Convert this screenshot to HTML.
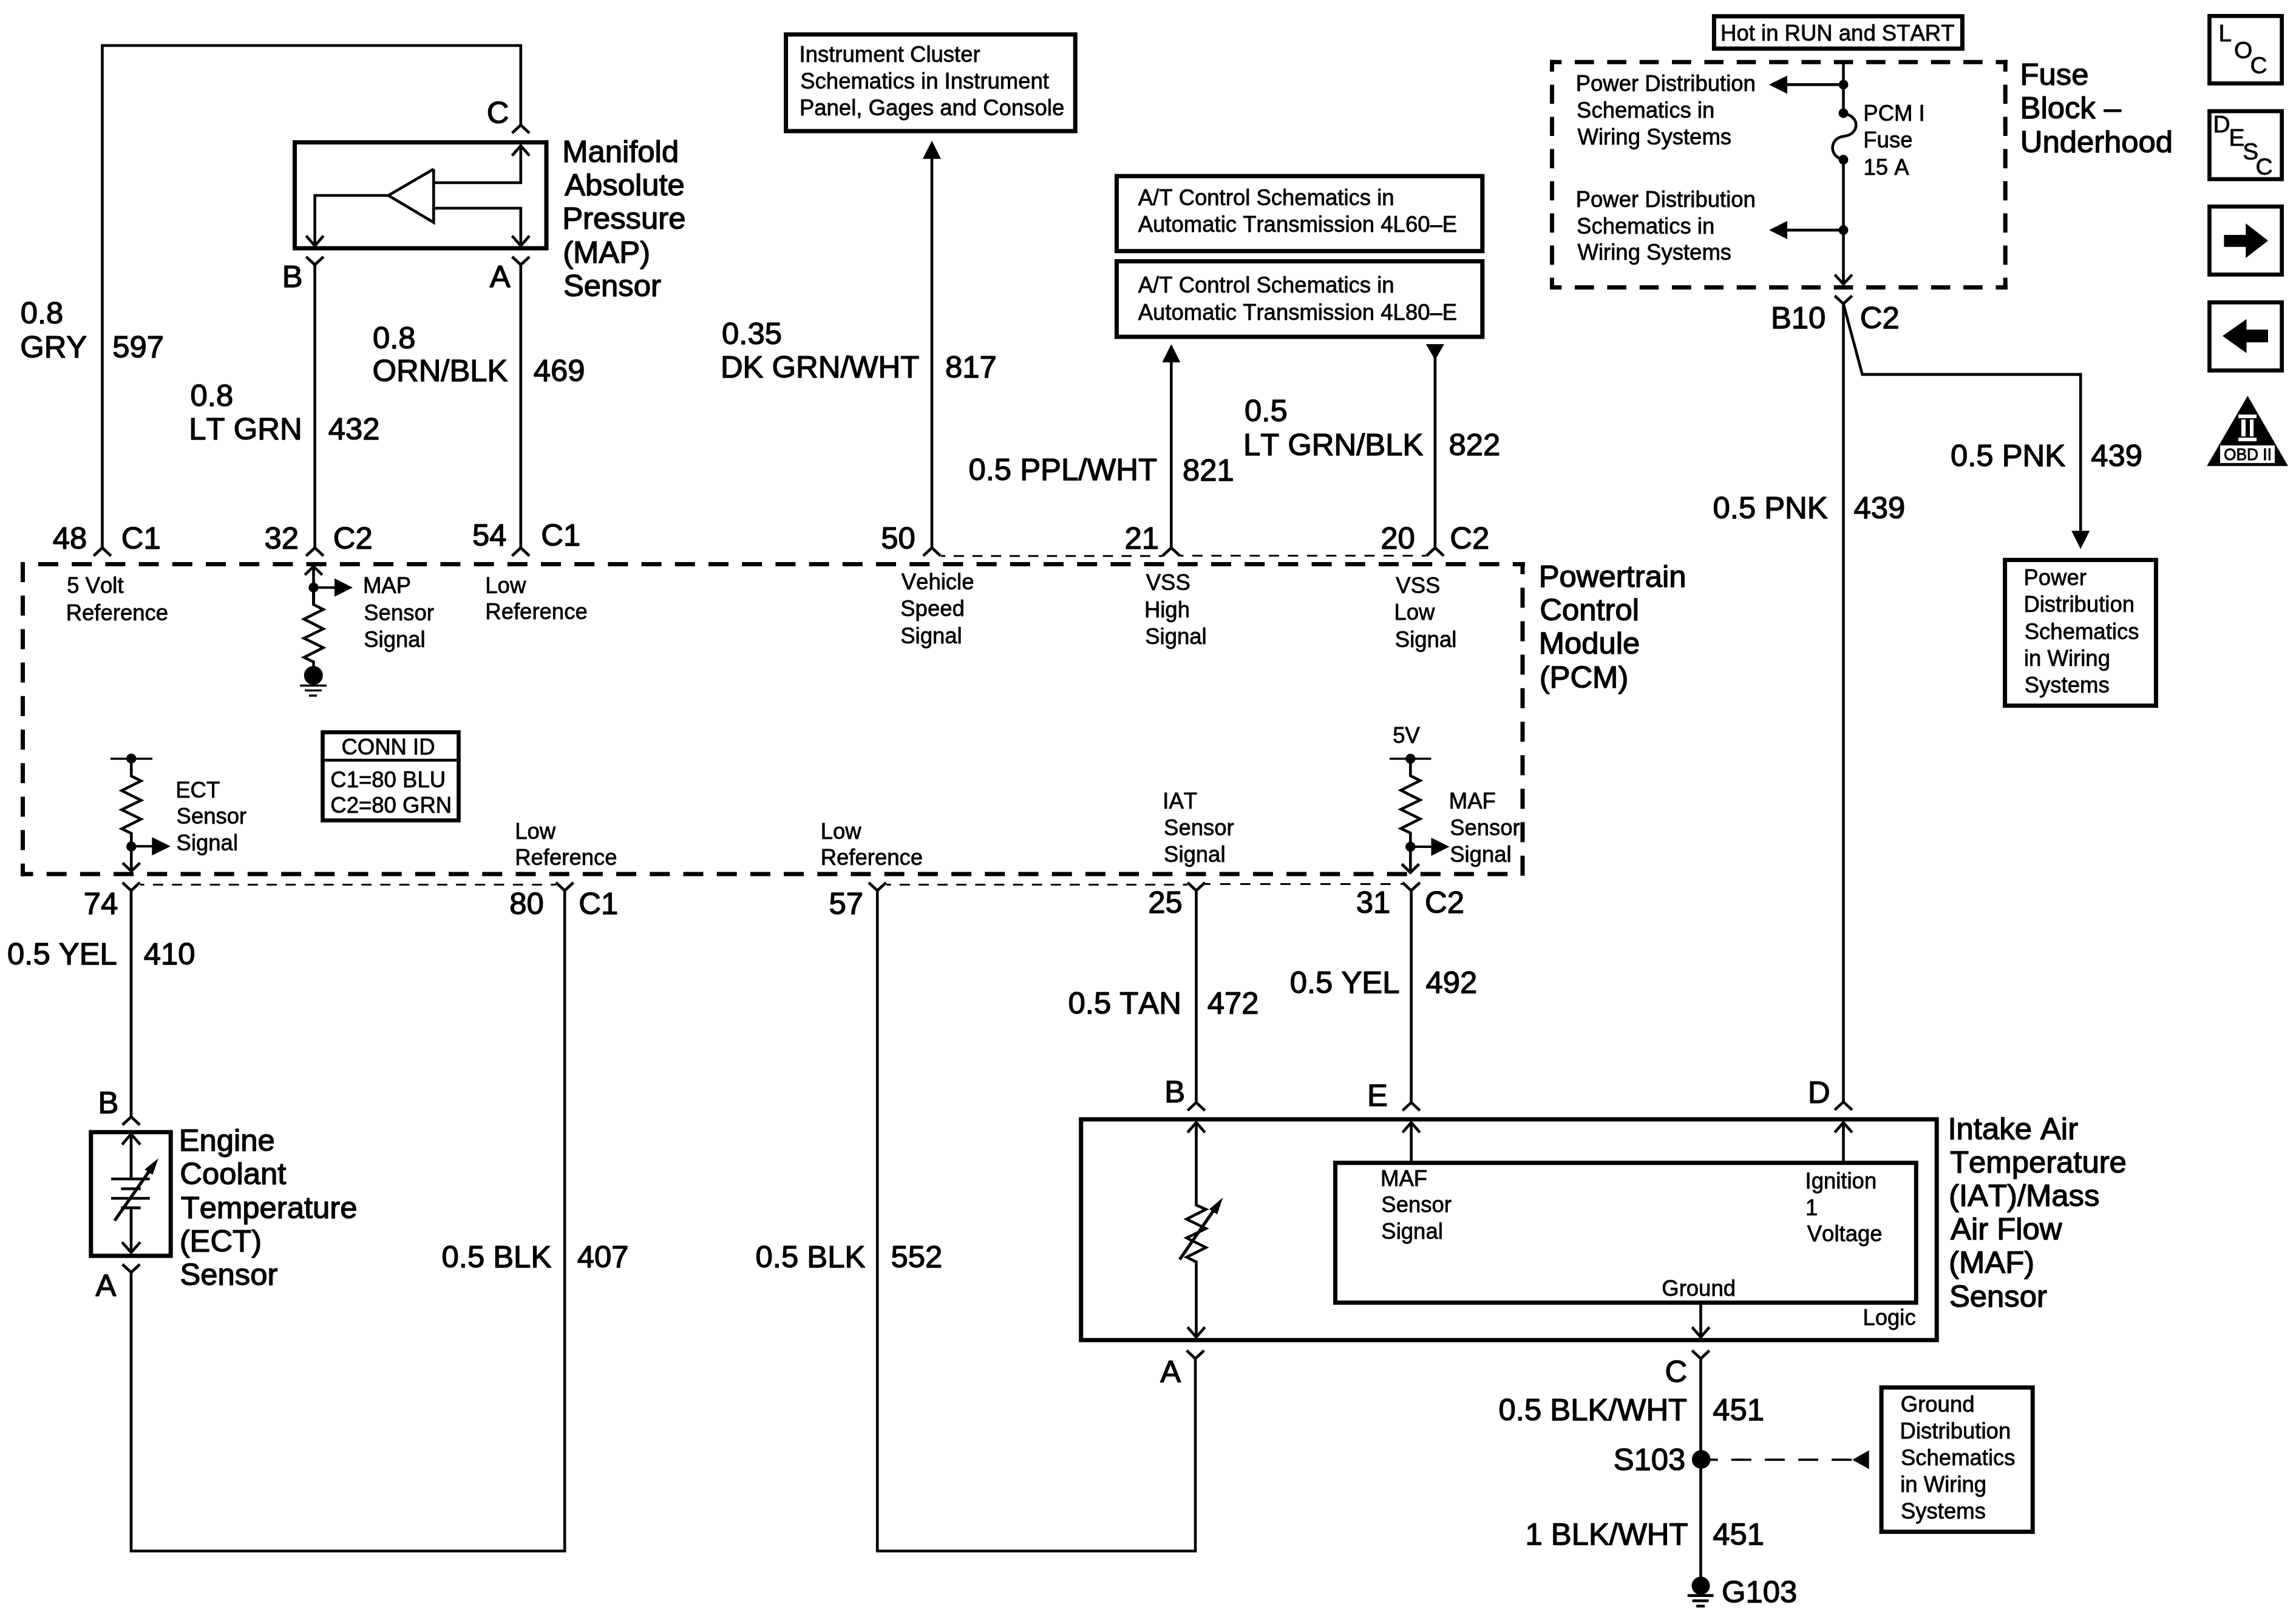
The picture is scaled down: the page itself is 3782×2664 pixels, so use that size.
<!DOCTYPE html>
<html><head><meta charset="utf-8">
<style>
html,body{margin:0;padding:0;background:#fff;}
body{width:3782px;height:2664px;overflow:hidden;}
svg{display:block;will-change:transform;}
text{-webkit-font-smoothing:antialiased;}
text{font-family:"Liberation Sans",sans-serif;font-kerning:none;fill:#000;stroke:#000;stroke-linejoin:round;}
</style></head>
<body>
<svg width="3782" height="2664" viewBox="0 0 3782 2664">
<rect x="0" y="0" width="3782" height="2664" fill="#fff"/>
<g stroke="#000" fill="none" stroke-linecap="butt" stroke-linejoin="miter">
<line x1="34" y1="929.5" x2="2512" y2="929.5" stroke-width="7" stroke-dasharray="33 22.2" stroke-dashoffset="26.2"/>
<line x1="2508" y1="926" x2="2508" y2="1443.8" stroke-width="7" stroke-dasharray="33 22.2" stroke-dashoffset="13"/>
<line x1="34" y1="1439.9" x2="2504" y2="1439.9" stroke-width="7" stroke-dasharray="33 22.2" stroke-dashoffset="12.5"/>
<line x1="37.5" y1="926" x2="37.5" y2="1443.4" stroke-width="7" stroke-dasharray="33 22.2" stroke-dashoffset="0"/>
<line x1="1550" y1="916" x2="1915" y2="916" stroke-width="3" stroke-dasharray="16.8 13.9" stroke-dashoffset="9.7"/>
<line x1="1944" y1="915.5" x2="2349" y2="915.5" stroke-width="3" stroke-dasharray="16.8 14.7" stroke-dashoffset="11.5"/>
<line x1="231" y1="1457.4" x2="916" y2="1457.4" stroke-width="3" stroke-dasharray="16.8 14.4" stroke-dashoffset="10.2"/>
<line x1="1460" y1="1457.4" x2="1956" y2="1457.4" stroke-width="3" stroke-dasharray="16.8 14.3" stroke-dashoffset="9.1"/>
<line x1="1985" y1="1456.6" x2="2310" y2="1456.6" stroke-width="3" stroke-dasharray="16.8 16.2" stroke-dashoffset="8"/>
<polyline points="168.5,902.5 168.5,75 857.8,75 857.8,206" stroke-width="4.6"/>
<polyline points="843.5,219.3 857.8,206 872.1,219.3" stroke-width="4.6"/>
<text x="801.82" y="202.8" font-size="50.8" stroke-width="1.4">C</text>
<rect x="485.5" y="234.5" width="414.5" height="174.5" stroke-width="7"/>
<polyline points="843.5,256.5 857.8,240 872.1,256.5" stroke-width="4.6"/>
<polyline points="714.6,301 857.8,301 857.8,240" stroke-width="4.6"/>
<polyline points="714.3,278.4 714.3,366.5 639.7,322 714.3,278.4" stroke-width="4.6" stroke-linejoin="miter"/>
<polyline points="714.6,343 857.8,343 857.8,405" stroke-width="4.6"/>
<polyline points="843.5,388.5 857.8,405 872.1,388.5" stroke-width="4.6"/>
<polyline points="639.7,322 518.6,322 518.6,405" stroke-width="4.6"/>
<polyline points="504.3,388.5 518.6,405 532.9,388.5" stroke-width="4.6"/>
<polyline points="504.3,423 518.6,436.3 532.9,423" stroke-width="4.6"/>
<polyline points="843.5,423 857.8,436.3 872.1,423" stroke-width="4.6"/>
<line x1="518.6" y1="436.5" x2="518.6" y2="902.5" stroke-width="4.6"/>
<line x1="857.8" y1="436.5" x2="857.8" y2="902.5" stroke-width="4.6"/>
<text x="464.73" y="472.8" font-size="50.8" stroke-width="1.4">B</text>
<text x="806.8" y="472.8" font-size="50.8" stroke-width="1.4">A</text>
<text x="926.13" y="266.7" font-size="50.8" stroke-width="1.4">Manifold</text>
<text x="930.2" y="322.07" font-size="50.8" stroke-width="1.4">Absolute</text>
<text x="926.13" y="377.44" font-size="50.8" stroke-width="1.4">Pressure</text>
<text x="927.15" y="432.81" font-size="50.8" stroke-width="1.4">(MAP)</text>
<text x="927.99" y="488.18" font-size="50.8" stroke-width="1.4">Sensor</text>
<text x="33.72" y="532.9" font-size="50.8" stroke-width="1.4">0.8</text>
<text x="33.15" y="588.7" font-size="50.8" stroke-width="1.4">GRY</text>
<text x="185.27" y="588.7" font-size="50.8" stroke-width="1.4">597</text>
<text x="313.52" y="668.5" font-size="50.8" stroke-width="1.4">0.8</text>
<text x="311.33" y="723.5" font-size="50.8" stroke-width="1.4">LT GRN</text>
<text x="540.83" y="723.5" font-size="50.8" stroke-width="1.4">432</text>
<text x="613.92" y="573.9" font-size="50.8" stroke-width="1.4">0.8</text>
<text x="613.49" y="627.9" font-size="50.8" stroke-width="1.4">ORN/BLK</text>
<text x="878.73" y="627.9" font-size="50.8" stroke-width="1.4">469</text>
<polyline points="154.2,915.8 168.5,902.5 182.8,915.8" stroke-width="4.6"/>
<polyline points="504.3,915.8 518.6,902.5 532.9,915.8" stroke-width="4.6"/>
<polyline points="843.5,915.8 857.8,902.5 872.1,915.8" stroke-width="4.6"/>
<polyline points="1520.7,915.8 1535,902.5 1549.3,915.8" stroke-width="4.6"/>
<polyline points="1915,915.8 1929.3,902.5 1943.6,915.8" stroke-width="4.6"/>
<polyline points="2349.6,915.8 2363.9,902.5 2378.2,915.8" stroke-width="4.6"/>
<text x="86.83" y="903.8" font-size="50.8" stroke-width="1.4">48</text>
<text x="199.72" y="903.8" font-size="50.8" stroke-width="1.4">C1</text>
<text x="435.57" y="903.5" font-size="50.8" stroke-width="1.4">32</text>
<text x="548.82" y="903.5" font-size="50.8" stroke-width="1.4">C2</text>
<text x="777.97" y="898.9" font-size="50.8" stroke-width="1.4">54</text>
<text x="891.22" y="898.9" font-size="50.8" stroke-width="1.4">C1</text>
<text x="1451.37" y="904" font-size="50.8" stroke-width="1.4">50</text>
<text x="1852.55" y="904" font-size="50.8" stroke-width="1.4">21</text>
<text x="2274.35" y="904" font-size="50.8" stroke-width="1.4">20</text>
<text x="2388.32" y="904" font-size="50.8" stroke-width="1.4">C2</text>
<rect x="1294.6" y="56.8" width="476.6" height="159.2" stroke-width="7"/>
<text x="1316.53" y="101.7" font-size="36.5" stroke-width="0.8">Instrument Cluster</text>
<text x="1318.24" y="145.8" font-size="36.5" stroke-width="0.8">Schematics in Instrument</text>
<text x="1316.91" y="189.9" font-size="36.5" stroke-width="0.8">Panel, Gages and Console</text>
<polygon points="1535,231.7 1520,261.7 1550,261.7" fill="#000" stroke="none"/>
<line x1="1535" y1="255" x2="1535" y2="902.5" stroke-width="4.6"/>
<text x="1189.12" y="566.8" font-size="50.8" stroke-width="1.4">0.35</text>
<text x="1186.93" y="621.7" font-size="50.8" stroke-width="1.4">DK GRN/WHT</text>
<text x="1556.99" y="621.7" font-size="50.8" stroke-width="1.4">817</text>
<rect x="1839.4" y="290.1" width="602.4" height="123.6" stroke-width="7"/>
<text x="1874.73" y="337.8" font-size="36.5" stroke-width="0.8">A/T Control Schematics in</text>
<text x="1874.73" y="381.7" font-size="36.5" stroke-width="0.8">Automatic Transmission 4L60–E</text>
<rect x="1839.4" y="430.5" width="602.4" height="124.4" stroke-width="7"/>
<text x="1874.73" y="482.4" font-size="36.5" stroke-width="0.8">A/T Control Schematics in</text>
<text x="1874.73" y="527" font-size="36.5" stroke-width="0.8">Automatic Transmission 4L80–E</text>
<polygon points="1929.3,567 1914.3,597 1944.3,597" fill="#000" stroke="none"/>
<line x1="1929.3" y1="590" x2="1929.3" y2="902.5" stroke-width="4.6"/>
<polygon points="2363.9,593 2348.9,567 2378.9,567" fill="#000" stroke="none"/>
<line x1="2363.9" y1="570" x2="2363.9" y2="902.5" stroke-width="4.6"/>
<text x="1595.42" y="791.3" font-size="50.8" stroke-width="1.4">0.5 PPL/WHT</text>
<text x="1947.99" y="791.6" font-size="50.8" stroke-width="1.4">821</text>
<text x="2050.12" y="693.6" font-size="50.8" stroke-width="1.4">0.5</text>
<text x="2047.93" y="750.3" font-size="50.8" stroke-width="1.4">LT GRN/BLK</text>
<text x="2386.59" y="750.3" font-size="50.8" stroke-width="1.4">822</text>
<rect x="2823.4" y="26.8" width="409" height="53.3" stroke-width="7"/>
<text x="2834.11" y="67.2" font-size="36.5" stroke-width="0.8">Hot in RUN and START</text>
<line x1="2553" y1="102.3" x2="3306.7" y2="102.3" stroke-width="7" stroke-dasharray="31.6 21.74" stroke-dashoffset="12.3"/>
<line x1="2553" y1="473.4" x2="3306.7" y2="473.4" stroke-width="7" stroke-dasharray="31.6 21.74" stroke-dashoffset="12.3"/>
<line x1="2556.5" y1="98.8" x2="2556.5" y2="476.9" stroke-width="7" stroke-dasharray="31.6 21.41" stroke-dashoffset="12.3"/>
<line x1="3303.2" y1="98.8" x2="3303.2" y2="476.9" stroke-width="7" stroke-dasharray="31.6 21.41" stroke-dashoffset="12.3"/>
<line x1="3036.5" y1="102.3" x2="3036.5" y2="186.4" stroke-width="4.6"/>
<circle cx="3036.5" cy="139.4" r="8" fill="#000" stroke="none"/>
<line x1="2940" y1="139.4" x2="3036.5" y2="139.4" stroke-width="4.6"/>
<polygon points="2914,139.4 2944,124.4 2944,154.4" fill="#000" stroke="none"/>
<circle cx="3036.5" cy="186.4" r="8" fill="#000" stroke="none"/>
<path d="M 3036.5 186.4 C 3066 192, 3062 222, 3037.5 224.5 C 3013 227, 3012 258, 3036.5 263.1" stroke-width="4.6"/>
<circle cx="3036.5" cy="263.1" r="8" fill="#000" stroke="none"/>
<line x1="3036.5" y1="263.1" x2="3036.5" y2="468" stroke-width="4.6"/>
<circle cx="3036.5" cy="379.1" r="8" fill="#000" stroke="none"/>
<line x1="2940" y1="379.1" x2="3036.5" y2="379.1" stroke-width="4.6"/>
<polygon points="2914,379.1 2944,364.1 2944,394.1" fill="#000" stroke="none"/>
<polyline points="3022.2,452.5 3036.5,468 3050.8,452.5" stroke-width="4.6"/>
<text x="2595.71" y="149.8" font-size="36.5" stroke-width="0.8">Power Distribution</text>
<text x="2597.04" y="193.7" font-size="36.5" stroke-width="0.8">Schematics in</text>
<text x="2598.54" y="237.6" font-size="36.5" stroke-width="0.8">Wiring Systems</text>
<text x="2595.71" y="340.6" font-size="36.5" stroke-width="0.8">Power Distribution</text>
<text x="2597.04" y="384.5" font-size="36.5" stroke-width="0.8">Schematics in</text>
<text x="2598.54" y="428.4" font-size="36.5" stroke-width="0.8">Wiring Systems</text>
<text x="3069.31" y="199.3" font-size="36.5" stroke-width="0.8">PCM I</text>
<text x="3069.31" y="243.4" font-size="36.5" stroke-width="0.8">Fuse</text>
<text x="3069.52" y="287.5" font-size="36.5" stroke-width="0.8">15 A</text>
<text x="3327.53" y="139.7" font-size="50.8" stroke-width="1.4">Fuse</text>
<text x="3327.53" y="195.2" font-size="50.8" stroke-width="1.4">Block –</text>
<text x="3327.78" y="250.7" font-size="50.8" stroke-width="1.4">Underhood</text>
<polyline points="3022.2,487.2 3036.5,500.5 3050.8,487.2" stroke-width="4.6"/>
<text x="2916.93" y="541.3" font-size="50.8" stroke-width="1.4">B10</text>
<text x="3063.82" y="541.3" font-size="50.8" stroke-width="1.4">C2</text>
<line x1="3036.5" y1="500.7" x2="3036.5" y2="1815.3" stroke-width="4.6"/>
<polyline points="3036.5,500.7 3067.6,616.9 3427.2,616.9 3427.2,880" stroke-width="4.6"/>
<polygon points="3427.2,904.5 3412.2,874.5 3442.2,874.5" fill="#000" stroke="none"/>
<text x="3212.92" y="767.7" font-size="50.8" stroke-width="1.4">0.5 PNK</text>
<text x="3444.33" y="767.7" font-size="50.8" stroke-width="1.4">439</text>
<text x="2821.52" y="853.8" font-size="50.8" stroke-width="1.4">0.5 PNK</text>
<text x="3053.43" y="853.8" font-size="50.8" stroke-width="1.4">439</text>
<rect x="3302.6" y="922.5" width="248.8" height="240.1" stroke-width="7"/>
<text x="3333.41" y="964.2" font-size="36.5" stroke-width="0.8">Power</text>
<text x="3333.41" y="1008.4" font-size="36.5" stroke-width="0.8">Distribution</text>
<text x="3334.74" y="1052.6" font-size="36.5" stroke-width="0.8">Schematics</text>
<text x="3333.96" y="1096.8" font-size="36.5" stroke-width="0.8">in Wiring</text>
<text x="3334.74" y="1141" font-size="36.5" stroke-width="0.8">Systems</text>
<text x="110.24" y="977.4" font-size="36.5" stroke-width="0.8">5 Volt</text>
<text x="108.71" y="1022" font-size="36.5" stroke-width="0.8">Reference</text>
<polyline points="502.2,947.2 516.5,933.2 530.8,947.2" stroke-width="4.6"/>
<line x1="516.5" y1="933.2" x2="516.5" y2="996" stroke-width="4.6"/>
<circle cx="516.5" cy="968" r="8.2" fill="#000" stroke="none"/>
<line x1="516.5" y1="968" x2="555" y2="968" stroke-width="3.9"/>
<polygon points="581,968 551,953 551,983" fill="#000" stroke="none"/>
<polyline points="516.5,968 516.5,996 532.5,1004 500.7,1020 532.5,1036 500.7,1051.5 532.5,1067 500.7,1083 516.5,1090.5 516.5,1100" stroke-width="4.6"/>
<circle cx="516.3" cy="1112.8" r="15.5" fill="#000" stroke="none"/>
<line x1="494.1" y1="1129.5" x2="537.9" y2="1129.5" stroke-width="3.4"/>
<line x1="502" y1="1137.5" x2="530" y2="1137.5" stroke-width="3.4"/>
<line x1="509" y1="1146" x2="522.1" y2="1146" stroke-width="3.6"/>
<text x="597.91" y="977.4" font-size="36.5" stroke-width="0.8">MAP</text>
<text x="599.24" y="1021.5" font-size="36.5" stroke-width="0.8">Sensor</text>
<text x="599.24" y="1065.6" font-size="36.5" stroke-width="0.8">Signal</text>
<text x="799.31" y="976.6" font-size="36.5" stroke-width="0.8">Low</text>
<text x="799.31" y="1020" font-size="36.5" stroke-width="0.8">Reference</text>
<text x="1484.74" y="971.2" font-size="36.5" stroke-width="0.8">Vehicle</text>
<text x="1483.24" y="1015.4" font-size="36.5" stroke-width="0.8">Speed</text>
<text x="1483.24" y="1059.6" font-size="36.5" stroke-width="0.8">Signal</text>
<text x="1887.74" y="972.4" font-size="36.5" stroke-width="0.8">VSS</text>
<text x="1884.91" y="1016.6" font-size="36.5" stroke-width="0.8">High</text>
<text x="1886.24" y="1060.8" font-size="36.5" stroke-width="0.8">Signal</text>
<text x="2299.34" y="976.7" font-size="36.5" stroke-width="0.8">VSS</text>
<text x="2296.51" y="1021.4" font-size="36.5" stroke-width="0.8">Low</text>
<text x="2297.84" y="1066.1" font-size="36.5" stroke-width="0.8">Signal</text>
<text x="2534.63" y="966.6" font-size="50.8" stroke-width="1.4">Powertrain</text>
<text x="2536.22" y="1021.97" font-size="50.8" stroke-width="1.4">Control</text>
<text x="2534.63" y="1077.34" font-size="50.8" stroke-width="1.4">Module</text>
<text x="2535.65" y="1132.71" font-size="50.8" stroke-width="1.4">(PCM)</text>
<line x1="182" y1="1250" x2="251" y2="1250" stroke-width="3.4"/>
<circle cx="216.3" cy="1249.7" r="8.3" fill="#000" stroke="none"/>
<polyline points="216.3,1249.7 216.3,1278.5 232.3,1286.5 200.5,1302.5 232.3,1318.5 200.5,1334 232.3,1349.5 200.5,1365.5 216.3,1373 216.3,1435.4" stroke-width="4.6"/>
<circle cx="216.3" cy="1394.6" r="8.3" fill="#000" stroke="none"/>
<line x1="216.3" y1="1394.3" x2="255" y2="1394.3" stroke-width="3.9"/>
<polygon points="280.9,1394.3 250.3,1379.3 250.3,1409.3" fill="#000" stroke="none"/>
<polyline points="202,1421.6 216.3,1435.4 230.6,1421.6" stroke-width="4.6"/>
<text x="289.21" y="1313.6" font-size="36.5" stroke-width="0.8">ECT</text>
<text x="290.54" y="1357.1" font-size="36.5" stroke-width="0.8">Sensor</text>
<text x="290.54" y="1400.6" font-size="36.5" stroke-width="0.8">Signal</text>
<rect x="531.5" y="1206.4" width="224" height="145.2" stroke-width="6.6"/>
<line x1="528.6" y1="1252.3" x2="758.5" y2="1252.3" stroke-width="4.7"/>
<text x="562.45" y="1243.2" font-size="36.5" stroke-width="0.8">CONN ID</text>
<text x="544.35" y="1297.2" font-size="36.5" stroke-width="0.8">C1=80 BLU</text>
<text x="544.35" y="1339" font-size="36.5" stroke-width="0.8">C2=80 GRN</text>
<text x="848.21" y="1381.9" font-size="36.5" stroke-width="0.8">Low</text>
<text x="848.21" y="1424.7" font-size="36.5" stroke-width="0.8">Reference</text>
<text x="1351.71" y="1381.9" font-size="36.5" stroke-width="0.8">Low</text>
<text x="1351.71" y="1424.7" font-size="36.5" stroke-width="0.8">Reference</text>
<text x="1915.33" y="1331.9" font-size="36.5" stroke-width="0.8">IAT</text>
<text x="1917.04" y="1376" font-size="36.5" stroke-width="0.8">Sensor</text>
<text x="1917.04" y="1420.1" font-size="36.5" stroke-width="0.8">Signal</text>
<text x="2294.24" y="1223.9" font-size="36.5" stroke-width="0.8">5V</text>
<line x1="2288.8" y1="1250" x2="2357.5" y2="1250" stroke-width="3.4"/>
<circle cx="2323.3" cy="1250" r="8.3" fill="#000" stroke="none"/>
<polyline points="2323.3,1250 2323.3,1278 2339.3,1286 2307.5,1302 2339.3,1318 2307.5,1333.5 2339.3,1349 2307.5,1365 2323.3,1372.5 2323.3,1437.5" stroke-width="4.6"/>
<circle cx="2323.3" cy="1395" r="8.3" fill="#000" stroke="none"/>
<line x1="2323.3" y1="1395" x2="2362" y2="1395" stroke-width="3.9"/>
<polygon points="2387.5,1395 2357.5,1380 2357.5,1410" fill="#000" stroke="none"/>
<polyline points="2309,1423.5 2323.3,1437.5 2337.6,1423.5" stroke-width="4.6"/>
<text x="2386.81" y="1331.9" font-size="36.5" stroke-width="0.8">MAF</text>
<text x="2388.14" y="1376" font-size="36.5" stroke-width="0.8">Sensor</text>
<text x="2388.14" y="1420.1" font-size="36.5" stroke-width="0.8">Signal</text>
<polyline points="201.7,1454 216,1467.3 230.3,1454" stroke-width="4.6"/>
<polyline points="915.9,1454 930.2,1467.3 944.5,1454" stroke-width="4.6"/>
<polyline points="1430.9,1454 1445.2,1467.3 1459.5,1454" stroke-width="4.6"/>
<polyline points="1956.2,1454 1970.5,1467.3 1984.8,1454" stroke-width="4.6"/>
<polyline points="2310.3,1454 2324.6,1467.3 2338.9,1454" stroke-width="4.6"/>
<text x="137.7" y="1505.7" font-size="50.8" stroke-width="1.4">74</text>
<text x="839.29" y="1506.3" font-size="50.8" stroke-width="1.4">80</text>
<text x="953.22" y="1506.3" font-size="50.8" stroke-width="1.4">C1</text>
<text x="1365.57" y="1506.3" font-size="50.8" stroke-width="1.4">57</text>
<text x="1891.35" y="1504.4" font-size="50.8" stroke-width="1.4">25</text>
<text x="2233.77" y="1504.4" font-size="50.8" stroke-width="1.4">31</text>
<text x="2347.12" y="1504.4" font-size="50.8" stroke-width="1.4">C2</text>
<line x1="216" y1="1467.3" x2="216" y2="1840" stroke-width="4.6"/>
<text x="12.12" y="1588.7" font-size="50.8" stroke-width="1.4">0.5 YEL</text>
<text x="236.73" y="1588.7" font-size="50.8" stroke-width="1.4">410</text>
<text x="161.53" y="1834.2" font-size="50.8" stroke-width="1.4">B</text>
<polyline points="201.7,1853.3 216,1840 230.3,1853.3" stroke-width="4.6"/>
<rect x="149.8" y="1865.2" width="131.4" height="203.8" stroke-width="7"/>
<polyline points="201,1885.7 216,1868.2 231,1885.7" stroke-width="4.6"/>
<line x1="216" y1="1868" x2="216" y2="1942.2" stroke-width="4.6"/>
<line x1="183" y1="1942.2" x2="246.7" y2="1942.2" stroke-width="4.6"/>
<line x1="199.3" y1="1958.5" x2="231.7" y2="1958.5" stroke-width="4.6"/>
<line x1="183" y1="1974.2" x2="246.7" y2="1974.2" stroke-width="4.6"/>
<line x1="199.3" y1="1989.9" x2="231.7" y2="1989.9" stroke-width="4.6"/>
<line x1="216" y1="1989.9" x2="216" y2="2063" stroke-width="4.6"/>
<polyline points="201,2046.5 216,2063.5 231,2046.5" stroke-width="4.6"/>
<line x1="188.8" y1="2011" x2="249" y2="1925" stroke-width="5.2"/>
<polygon points="260.9,1908.3 238.4,1926.7 251.4,1935.5" fill="#000" stroke="none"/>
<polyline points="201.7,2083 216,2096.3 230.3,2083" stroke-width="4.6"/>
<text x="157.6" y="2135.2" font-size="50.8" stroke-width="1.4">A</text>
<text x="294.63" y="1895.8" font-size="50.8" stroke-width="1.4">Engine</text>
<text x="296.22" y="1951.17" font-size="50.8" stroke-width="1.4">Coolant</text>
<text x="297.66" y="2006.54" font-size="50.8" stroke-width="1.4">Temperature</text>
<text x="295.65" y="2061.91" font-size="50.8" stroke-width="1.4">(ECT)</text>
<text x="296.49" y="2117.28" font-size="50.8" stroke-width="1.4">Sensor</text>
<polyline points="216,2096.5 216,2555.2 930.2,2555.2 930.2,1467.3" stroke-width="4.6"/>
<text x="727.52" y="2087.6" font-size="50.8" stroke-width="1.4">0.5 BLK</text>
<text x="950.63" y="2087.6" font-size="50.8" stroke-width="1.4">407</text>
<polyline points="1445.2,1467.3 1445.2,2555.2 1969,2555.2 1969,2238.5" stroke-width="4.6"/>
<text x="1244.62" y="2087.6" font-size="50.8" stroke-width="1.4">0.5 BLK</text>
<text x="1467.57" y="2087.6" font-size="50.8" stroke-width="1.4">552</text>
<line x1="1970.5" y1="1467.3" x2="1970.5" y2="1816.3" stroke-width="4.6"/>
<polyline points="1956.2,1829.6 1970.5,1816.3 1984.8,1829.6" stroke-width="4.6"/>
<text x="1759.52" y="1669.7" font-size="50.8" stroke-width="1.4">0.5 TAN</text>
<text x="1988.63" y="1669.7" font-size="50.8" stroke-width="1.4">472</text>
<line x1="2324.6" y1="1467.3" x2="2324.6" y2="1816.3" stroke-width="4.6"/>
<polyline points="2310.3,1829.6 2324.6,1816.3 2338.9,1829.6" stroke-width="4.6"/>
<text x="2124.72" y="1636" font-size="50.8" stroke-width="1.4">0.5 YEL</text>
<text x="2348.53" y="1636" font-size="50.8" stroke-width="1.4">492</text>
<polyline points="3022.2,1828.6 3036.5,1815.3 3050.8,1828.6" stroke-width="4.6"/>
<text x="1918.13" y="1816.3" font-size="50.8" stroke-width="1.4">B</text>
<text x="2251.93" y="1822" font-size="50.8" stroke-width="1.4">E</text>
<text x="2977.93" y="1816.6" font-size="50.8" stroke-width="1.4">D</text>
<rect x="1780.7" y="1844.1" width="1409.5" height="363.7" stroke-width="7"/>
<rect x="2199.5" y="1915.8" width="956.8" height="230.3" stroke-width="7"/>
<polyline points="1956.2,1865.8 1970.5,1849.3 1984.8,1865.8" stroke-width="4.6"/>
<polyline points="1970.5,1849.3 1970.5,1985.4 1986.4,1992.3 1954.6,2008.5 1986.4,2024 1954.6,2039.5 1986.4,2055.2 1954.6,2071.2 1970.5,2078.9 1970.5,2203" stroke-width="4.6"/>
<polyline points="1956.2,2186.5 1970.5,2203 1984.8,2186.5" stroke-width="4.6"/>
<line x1="1943.2" y1="2075" x2="2002" y2="1990" stroke-width="5.2"/>
<polygon points="2014.3,1973 1991.9,1992.3 2005,2000.8" fill="#000" stroke="none"/>
<polyline points="2310.3,1865.8 2324.6,1849.3 2338.9,1865.8" stroke-width="4.6"/>
<line x1="2324.6" y1="1849.3" x2="2324.6" y2="1913" stroke-width="4.6"/>
<polyline points="3022.2,1865.8 3036.5,1849.3 3050.8,1865.8" stroke-width="4.6"/>
<line x1="3036.5" y1="1849.3" x2="3036.5" y2="1913" stroke-width="4.6"/>
<line x1="2801.5" y1="2148" x2="2801.5" y2="2203" stroke-width="4.6"/>
<polyline points="2787.2,2186.5 2801.5,2203 2815.8,2186.5" stroke-width="4.6"/>
<text x="2274.01" y="1953.8" font-size="36.5" stroke-width="0.8">MAF</text>
<text x="2275.34" y="1997.4" font-size="36.5" stroke-width="0.8">Sensor</text>
<text x="2275.34" y="2041" font-size="36.5" stroke-width="0.8">Signal</text>
<text x="2973.53" y="1958.2" font-size="36.5" stroke-width="0.8">Ignition</text>
<text x="2974.12" y="2001.75" font-size="36.5" stroke-width="0.8">1</text>
<text x="2976.74" y="2045.3" font-size="36.5" stroke-width="0.8">Voltage</text>
<text x="2737.26" y="2134.6" font-size="36.5" stroke-width="0.8">Ground</text>
<text x="3068.41" y="2183.4" font-size="36.5" stroke-width="0.8">Logic</text>
<text x="3208.51" y="1876.6" font-size="50.8" stroke-width="1.4">Intake Air</text>
<text x="3212.06" y="1931.82" font-size="50.8" stroke-width="1.4">Temperature</text>
<text x="3210.05" y="1987.04" font-size="50.8" stroke-width="1.4">(IAT)/Mass</text>
<text x="3213.1" y="2042.26" font-size="50.8" stroke-width="1.4">Air Flow</text>
<text x="3210.05" y="2097.48" font-size="50.8" stroke-width="1.4">(MAF)</text>
<text x="3210.89" y="2152.7" font-size="50.8" stroke-width="1.4">Sensor</text>
<polyline points="1954.7,2225 1969,2238.3 1983.3,2225" stroke-width="4.6"/>
<polyline points="2787.2,2225 2801.5,2238.3 2815.8,2225" stroke-width="4.6"/>
<text x="1911.3" y="2277.2" font-size="50.8" stroke-width="1.4">A</text>
<text x="2742.42" y="2276.7" font-size="50.8" stroke-width="1.4">C</text>
<line x1="2801.5" y1="2238.5" x2="2801.5" y2="2612.5" stroke-width="4.6"/>
<text x="2468.62" y="2340.3" font-size="50.8" stroke-width="1.4">0.5 BLK/WHT</text>
<text x="2821.33" y="2340.3" font-size="50.8" stroke-width="1.4">451</text>
<circle cx="2802.2" cy="2404.4" r="15.3" fill="#000" stroke="none"/>
<text x="2657.69" y="2421.7" font-size="50.8" stroke-width="1.4">S103</text>
<line x1="2796.9" y1="2404.9" x2="3052" y2="2404.9" stroke-width="3.8" stroke-dasharray="32.8 22.27" stroke-dashoffset="0"/>
<polygon points="3051.1,2404.9 3078.7,2389.6 3078.7,2420.2" fill="#000" stroke="none"/>
<rect x="3099.1" y="2285.9" width="249.1" height="237.7" stroke-width="7"/>
<text x="3130.76" y="2325.9" font-size="36.5" stroke-width="0.8">Ground</text>
<text x="3129.61" y="2370" font-size="36.5" stroke-width="0.8">Distribution</text>
<text x="3130.94" y="2414.1" font-size="36.5" stroke-width="0.8">Schematics</text>
<text x="3130.16" y="2458.2" font-size="36.5" stroke-width="0.8">in Wiring</text>
<text x="3130.94" y="2502.3" font-size="36.5" stroke-width="0.8">Systems</text>
<text x="2512.43" y="2545" font-size="50.8" stroke-width="1.4">1 BLK/WHT</text>
<text x="2821.33" y="2545" font-size="50.8" stroke-width="1.4">451</text>
<circle cx="2801.5" cy="2612.5" r="15" fill="#000" stroke="none"/>
<line x1="2779.8" y1="2628.6" x2="2822.5" y2="2628.6" stroke-width="4.6"/>
<line x1="2787.6" y1="2637.3" x2="2814.6" y2="2637.3" stroke-width="4.6"/>
<line x1="2794.2" y1="2646" x2="2808.1" y2="2646" stroke-width="4.6"/>
<text x="2836.05" y="2639.5" font-size="50.8" stroke-width="1.4">G103</text>
<rect x="3639.45" y="26.35" width="119.2" height="111.1" stroke-width="6.7"/>
<text x="3654.4" y="67.9" font-size="39" stroke-width="0.8">L</text>
<text x="3679.95" y="96.2" font-size="39" stroke-width="0.8">O</text>
<text x="3706.52" y="121.3" font-size="39" stroke-width="0.8">C</text>
<rect x="3639.45" y="183.15" width="119.2" height="112" stroke-width="6.7"/>
<text x="3645.5" y="217.8" font-size="39" stroke-width="0.8">D</text>
<text x="3671.5" y="240.1" font-size="39" stroke-width="0.8">E</text>
<text x="3694.33" y="262.8" font-size="39" stroke-width="0.8">S</text>
<text x="3715.42" y="287.8" font-size="39" stroke-width="0.8">C</text>
<rect x="3639.45" y="340.25" width="119.2" height="112.1" stroke-width="6.7"/>
<polygon points="3663.4,387.1 3699.2,387.1 3699.2,367.9 3736,396.4 3699.2,425 3699.2,406.8 3663.4,406.8" fill="#000" stroke="none"/>
<rect x="3639.45" y="498.15" width="119.2" height="112.2" stroke-width="6.7"/>
<polygon points="3736,543 3700.5,543 3700.5,525.7 3661,553.5 3700.5,581.7 3700.5,564 3736,564" fill="#000" stroke="none"/>
<polygon points="3702.4,652.1 3768.9,767.7 3635.2,767.7" fill="#000" stroke="none"/>
<g fill="#fff" stroke="none"><rect x="3687.1" y="682.9" width="29.9" height="6"/><rect x="3687.1" y="721" width="29.9" height="6"/><rect x="3691.9" y="691.1" width="7.1" height="27.9"/><rect x="3706" y="691.1" width="6.1" height="27.9"/><rect x="3657" y="733.8" width="90" height="29"/></g>
<text x="3663" y="758.2" font-size="28" textLength="79" lengthAdjust="spacingAndGlyphs">OBD II</text>
</g>
</svg>
</body></html>
